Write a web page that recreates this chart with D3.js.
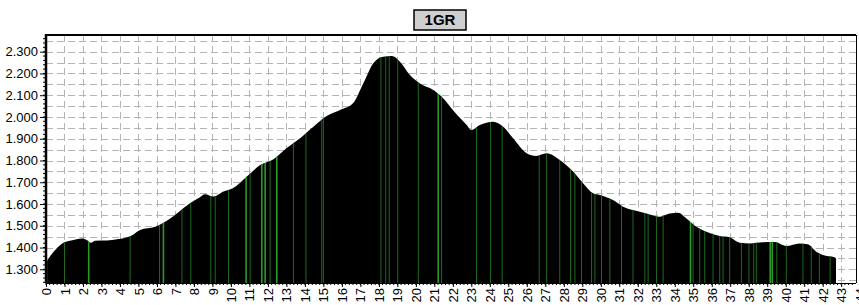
<!DOCTYPE html>
<html lang="en">
<head>
  <meta charset="UTF-8">
  <title>1GR profile</title>
  <script src="https://d3js.org/d3.v7.min.js"></script>
  <style>
    body { margin: 0; background: #fff; }
    text { font-family: "Liberation Sans", Arial, sans-serif; }
    .grid line { stroke: #b4b4b4; stroke-width: 1; stroke-dasharray: 7,4; }
  </style>
</head>
<body>
<div id="chart"></div>
<script>
  // distance along the route (km) and elevation (m)
  var km = [0, 0.23, 0.57, 0.95, 1.49, 1.94, 2.21, 2.43, 2.66, 3.3, 3.84, 4.58, 5.09, 5.9, 6.35, 7.08, 7.8, 8.3, 8.6, 9.05,
    9.6, 10.1, 10.86, 11.58, 12.3, 13.0, 13.74, 14.46, 15.18, 15.9, 16.6, 17.16, 17.7, 18.24, 18.7, 19.14, 19.68, 20.2, 20.94, 21.48,
    22.0, 22.75, 23.0, 23.46, 24.18, 24.72, 25.26, 25.99, 26.5, 27.07, 27.78, 28.5, 29.04, 29.58, 29.95, 30.3, 30.66, 31.2, 31.74, 32.47,
    33.19, 33.73, 34.18, 34.63, 35.17, 35.71, 36.43, 36.97, 37.51, 38.05, 38.77, 39.4, 40.03, 40.75, 41.2, 41.65, 42.0, 42.64, 42.72];
  var elevation = [1330, 1361, 1396, 1422, 1435, 1442, 1435, 1422, 1431, 1432, 1438, 1453, 1481, 1496, 1514, 1557, 1605, 1630, 1645, 1634,
    1657, 1672, 1726, 1779, 1806, 1856, 1902, 1955, 2004, 2032, 2063, 2155, 2247, 2277, 2280, 2254, 2193, 2155, 2124, 2086,
    2032, 1963, 1940, 1963, 1978, 1955, 1902, 1833, 1821, 1833, 1802, 1749, 1695, 1649, 1641, 1631, 1618, 1588, 1572, 1557,
    1542, 1557, 1560, 1534, 1496, 1473, 1453, 1447, 1422, 1419, 1424, 1425, 1407, 1419, 1415, 1381, 1366, 1355, 1350];

  // green markers inside the profile (km)
  var markers = [0.05, 1.0, 4.55, 6.14, 7.35, 7.83, 8.91, 9.15, 9.87, 11.04, 12.12, 13.38, 14.06, 14.91, 15.0,
    18.11, 18.37, 18.56, 19.02, 20.13, 21.39, 23.28, 24.04, 24.67, 26.67, 27.07, 27.78, 28.36, 28.6, 28.96,
    29.5, 29.68, 30.04, 30.49, 31.12, 31.74, 32.38, 32.56, 33.01, 33.37, 34.99, 35.35, 35.62, 36.07, 36.43,
    36.61, 36.97, 37.6, 38.01, 38.27, 38.41, 39.52, 40.03, 40.93, 41.38, 41.82, 42.4];
  var brightMarkers = [2.31, 6.35, 10.82, 11.67, 11.85, 12.48, 21.21, 34.85, 39.16, 39.27];

  var yTicks = [1300, 1400, 1500, 1600, 1700, 1800, 1900, 2000, 2100, 2200, 2300];
  var xTicks = d3.range(0, 45);
  var title = "1GR";

  var W = 859, H = 305;
  // plot frame (note: "top" is reserved on window, so use own names)
  var pLeft = 46, pRight = 856, pTop = 35, pBottom = 283;

  var svg = d3.select("#chart").append("svg")
    .attr("width", W)
    .attr("height", H);

  var x = d3.scaleLinear().domain([0, 43.8]).range([pLeft, pRight]);
  var y = d3.scaleLinear().domain([1300, 2300]).range([269.3, 51.7]);

  var fmt = d3.formatLocale({ decimal: ",", thousands: ".", grouping: [3], currency: ["", ""] }).format(",");

  // dashed grid
  var grid = svg.append("g").attr("class", "grid");
  grid.selectAll(".h")
    .data(d3.range(1250, 2380, 50))
    .enter().append("line")
    .attr("x1", pLeft).attr("x2", pRight)
    .attr("y1", function(d) { return Math.round(y(d)) + 0.5; })
    .attr("y2", function(d) { return Math.round(y(d)) + 0.5; });
  grid.selectAll(".v")
    .data(d3.range(1, 44))
    .enter().append("line")
    .attr("y1", pTop).attr("y2", pBottom)
    .attr("x1", function(d) { return Math.round(x(d)) + 0.5; })
    .attr("x2", function(d) { return Math.round(x(d)) + 0.5; });

  // profile
  var profile = km.map(function(d, i) { return { km: d, ele: elevation[i] }; });
  var area = d3.area()
    .x(function(d) { return x(d.km); })
    .y0(pBottom)
    .y1(function(d) { return y(d.ele); })
    .curve(d3.curveMonotoneX);

  svg.append("clipPath").attr("id", "profileClip")
    .append("path").datum(profile).attr("d", area);

  svg.append("path")
    .datum(profile)
    .attr("fill", "#000")
    .attr("d", area);

  var marks = svg.append("g").attr("clip-path", "url(#profileClip)");
  marks.selectAll(".m")
    .data(markers)
    .enter().append("line")
    .attr("x1", function(d) { return x(d); })
    .attr("x2", function(d) { return x(d); })
    .attr("y1", pTop).attr("y2", pBottom)
    .attr("stroke", "#1d6b1d")
    .attr("stroke-width", 1);
  marks.selectAll(".b")
    .data(brightMarkers)
    .enter().append("line")
    .attr("x1", function(d) { return x(d); })
    .attr("x2", function(d) { return x(d); })
    .attr("y1", pTop).attr("y2", pBottom)
    .attr("stroke", "#2a9a2a")
    .attr("stroke-width", 1.6);

  // frame
  svg.append("line").attr("x1", pLeft - 1).attr("x2", pRight).attr("y1", pTop).attr("y2", pTop)
    .attr("stroke", "#000").attr("stroke-width", 2);
  svg.append("line").attr("x1", pRight + 0.5).attr("x2", pRight + 0.5).attr("y1", pTop).attr("y2", pBottom)
    .attr("stroke", "#000").attr("stroke-width", 1);

  // left axis
  var yAxis = svg.append("g")
    .attr("transform", "translate(" + pLeft + ",0)")
    .call(d3.axisLeft(y).tickValues(yTicks).tickFormat(fmt).tickSize(6).tickPadding(2));
  yAxis.select(".domain").remove();
  yAxis.selectAll("text").attr("font-size", 13).attr("fill", "#000")
    .style("font-family", "'Liberation Sans', Arial, sans-serif");
  yAxis.selectAll(".minor")
    .data(d3.range(1240, 2380, 20))
    .enter().append("line")
    .attr("x1", -3).attr("x2", 0)
    .attr("y1", function(d) { return y(d); })
    .attr("y2", function(d) { return y(d); })
    .attr("stroke", "#000");
  svg.append("line").attr("x1", pLeft).attr("x2", pLeft).attr("y1", pTop - 1).attr("y2", pBottom)
    .attr("stroke", "#000").attr("stroke-width", 2.5);

  // bottom axis
  var xAxis = svg.append("g")
    .attr("transform", "translate(0," + pBottom + ")")
    .call(d3.axisBottom(x).tickValues(xTicks).tickFormat(d3.format("d")).tickSize(4).tickPadding(2));
  xAxis.select(".domain").attr("d", "M" + pLeft + ",0.5H" + pRight);
  xAxis.selectAll(".minor")
    .data(d3.range(0, 43.8, 0.2))
    .enter().append("line")
    .attr("x1", function(d) { return x(d); })
    .attr("x2", function(d) { return x(d); })
    .attr("y1", 0).attr("y2", 2)
    .attr("stroke", "#000");
  xAxis.selectAll(".tick text")
    .attr("font-size", 13).attr("fill", "#000")
    .style("font-family", "'Liberation Sans', Arial, sans-serif")
    .attr("transform", "rotate(-90)")
    .attr("text-anchor", "end")
    .attr("x", -5)
    .attr("y", 0)
    .attr("dy", "0.35em");

  // title box
  var tg = svg.append("g").attr("transform", "translate(440,20)");
  tg.append("rect")
    .attr("x", -26).attr("y", -10).attr("width", 52).attr("height", 20)
    .attr("fill", "#cfcfcf").attr("stroke", "#000").attr("stroke-width", 1.5);
  tg.append("text")
    .attr("text-anchor", "middle").attr("dy", "0.36em")
    .attr("font-size", 15).attr("font-weight", "bold")
    .text(title);
</script>
</body>
</html>
